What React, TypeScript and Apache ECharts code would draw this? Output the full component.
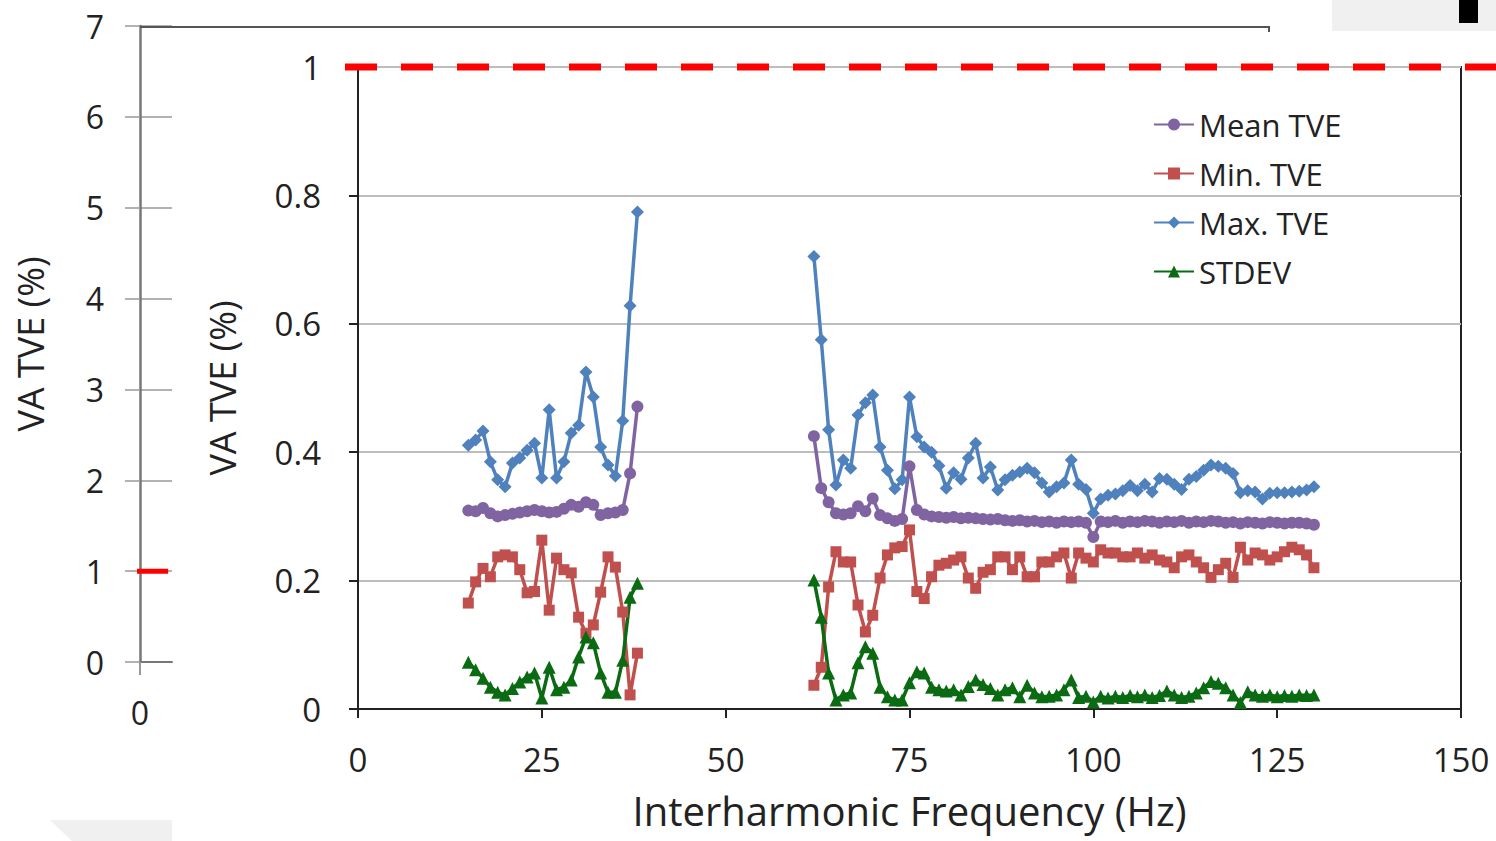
import React, { useEffect, useRef } from "react";
import * as echarts from "echarts";

// Interharmonic frequencies (Hz)
const freqA = [15, 16, 17, 18, 19, 20, 21, 22, 23, 24, 25, 26, 27, 28, 29, 30, 31, 32, 33, 34, 35, 36, 37, 38];
const freqB = [
  62, 63, 64, 65, 66, 67, 68, 69, 70, 71,
  72, 73, 74, 75, 76, 77, 78, 79, 80, 81,
  82, 83, 84, 85, 86, 87, 88, 89, 90, 91,
  92, 93, 94, 95, 96, 97, 98, 99, 100, 101,
  102, 103, 104, 105, 106, 107, 108, 109, 110, 111,
  112, 113, 114, 115, 116, 117, 118, 119, 120, 121,
  122, 123, 124, 125, 126, 127, 128, 129, 130,
];

const meanA = [0.309, 0.308, 0.313, 0.305, 0.300, 0.302, 0.304, 0.306, 0.308, 0.310, 0.308, 0.306, 0.307, 0.312, 0.318, 0.315, 0.322, 0.318, 0.302, 0.305, 0.306, 0.310, 0.367, 0.471];
const minA = [0.165, 0.198, 0.219, 0.206, 0.237, 0.240, 0.237, 0.217, 0.181, 0.183, 0.263, 0.154, 0.235, 0.217, 0.212, 0.143, 0.118, 0.131, 0.182, 0.237, 0.221, 0.151, 0.022, 0.087];
const maxA = [0.411, 0.419, 0.433, 0.385, 0.357, 0.346, 0.383, 0.391, 0.403, 0.414, 0.360, 0.466, 0.360, 0.385, 0.430, 0.442, 0.525, 0.486, 0.408, 0.380, 0.363, 0.449, 0.628, 0.774];
const stdA = [0.073, 0.061, 0.048, 0.034, 0.026, 0.022, 0.032, 0.042, 0.050, 0.056, 0.017, 0.065, 0.030, 0.034, 0.045, 0.081, 0.112, 0.103, 0.056, 0.026, 0.026, 0.076, 0.174, 0.196];

const meanB = [
  0.425, 0.344, 0.322, 0.305, 0.303, 0.305, 0.316, 0.308, 0.328, 0.302,
  0.297, 0.293, 0.296, 0.378, 0.310, 0.303, 0.300, 0.299, 0.298, 0.299,
  0.297, 0.298, 0.297, 0.296, 0.295, 0.296, 0.294, 0.293, 0.294, 0.292,
  0.293, 0.291, 0.292, 0.290, 0.292, 0.291, 0.292, 0.290, 0.268, 0.292,
  0.291, 0.293, 0.290, 0.292, 0.291, 0.293, 0.292, 0.290, 0.292, 0.291,
  0.293, 0.290, 0.292, 0.291, 0.293, 0.292, 0.290, 0.291, 0.289, 0.291,
  0.290, 0.289, 0.291, 0.290, 0.289, 0.290, 0.290, 0.289, 0.287,
];
const minB = [
  0.037, 0.065, 0.190, 0.245, 0.229, 0.229, 0.162, 0.120, 0.146, 0.204,
  0.240, 0.251, 0.253, 0.279, 0.183, 0.172, 0.206, 0.224, 0.227, 0.232,
  0.237, 0.204, 0.188, 0.213, 0.217, 0.237, 0.237, 0.217, 0.237, 0.206,
  0.206, 0.229, 0.229, 0.237, 0.243, 0.204, 0.243, 0.235, 0.229, 0.248,
  0.243, 0.243, 0.237, 0.237, 0.243, 0.235, 0.240, 0.232, 0.229, 0.220,
  0.237, 0.240, 0.229, 0.220, 0.205, 0.217, 0.227, 0.205, 0.252, 0.232,
  0.243, 0.240, 0.232, 0.237, 0.245, 0.252, 0.248, 0.240, 0.220,
];
const maxB = [
  0.705, 0.575, 0.435, 0.349, 0.388, 0.375, 0.458, 0.477, 0.489, 0.408,
  0.372, 0.343, 0.357, 0.486, 0.424, 0.408, 0.400, 0.379, 0.344, 0.368,
  0.358, 0.391, 0.414, 0.360, 0.377, 0.341, 0.357, 0.364, 0.369, 0.375,
  0.368, 0.352, 0.338, 0.346, 0.352, 0.388, 0.350, 0.342, 0.305, 0.327,
  0.333, 0.335, 0.340, 0.348, 0.340, 0.350, 0.338, 0.359, 0.358, 0.350,
  0.342, 0.358, 0.362, 0.372, 0.380, 0.378, 0.375, 0.367, 0.337, 0.340,
  0.338, 0.327, 0.336, 0.337, 0.337, 0.338, 0.339, 0.341, 0.346,
];
const stdB = [
  0.201, 0.143, 0.056, 0.014, 0.022, 0.025, 0.072, 0.097, 0.087, 0.034,
  0.019, 0.014, 0.014, 0.041, 0.058, 0.056, 0.034, 0.030, 0.028, 0.030,
  0.022, 0.035, 0.045, 0.038, 0.032, 0.022, 0.030, 0.033, 0.019, 0.037,
  0.025, 0.019, 0.020, 0.022, 0.030, 0.045, 0.018, 0.020, 0.011, 0.020,
  0.017, 0.020, 0.018, 0.021, 0.019, 0.022, 0.018, 0.021, 0.028, 0.022,
  0.018, 0.020, 0.025, 0.033, 0.043, 0.040, 0.033, 0.022, 0.010, 0.027,
  0.022, 0.020, 0.022, 0.019, 0.021, 0.020, 0.022, 0.021, 0.022,
];

const seriesNames = ["Mean TVE", "Min. TVE", "Max. TVE", "STDEV"];
const seriesColors = ["#8064A2", "#C0504D", "#4F81BD", "#0B6B12"];
const seriesSymbols = ["circle", "rect", "diamond", "triangle"];
const seriesSizes = [12, 11, 13, 13];
const seriesA = [meanA, minA, maxA, stdA];
const seriesB = [meanB, minB, maxB, stdB];

const yTicksLeft = [0, 1, 2, 3, 4, 5, 6, 7];
const limitValue = 1;

const FONT = "Open Sans";
const TXT = "#222";

function buildData(a: number[], b: number[]) {
  const out: any[] = freqA.map((f, i) => [f, a[i]]);
  out.push([50, "-"]);
  freqB.forEach((f, i) => out.push([f, b[i]]));
  return out;
}

export default function App() {
  const ref = useRef<HTMLDivElement>(null);
  useEffect(() => {
    if (!ref.current) return;
    const chart = echarts.init(ref.current, undefined, { renderer: "svg" });
    const option: any = {
      animation: false,
      backgroundColor: "#fff",
      textStyle: { fontFamily: FONT },
      legend: {
        data: seriesNames,
        orient: "vertical",
        left: 1148,
        top: 104,
        itemWidth: 40,
        itemHeight: 15,
        itemGap: 18,
        textStyle: { fontSize: 31, color: TXT, fontFamily: FONT },
      },
      grid: [
        { left: 358, top: 67, width: 1103, height: 642, show: true, borderColor: "#222", borderWidth: 2 },
        { left: 140, top: 26, width: 32, height: 636 },
      ],
      xAxis: [
        {
          gridIndex: 0,
          type: "value",
          min: 0,
          max: 150,
          interval: 25,
          axisLine: { lineStyle: { color: "#222", width: 2 } },
          axisTick: { length: 9, lineStyle: { color: "#222", width: 2 } },
          axisLabel: { fontSize: 33, color: TXT, margin: 34, fontFamily: FONT },
          splitLine: { show: false },
          name: "Interharmonic Frequency (Hz)",
          nameLocation: "middle",
          nameGap: 81,
          nameTextStyle: { fontSize: 40, color: TXT, fontFamily: FONT },
        },
        {
          gridIndex: 1,
          type: "value",
          min: 0,
          max: 1,
          interval: 1,
          axisLine: { lineStyle: { color: "#777", width: 2 } },
          axisTick: { customValues: [0], length: 13, lineStyle: { color: "#999", width: 2 } },
          axisLabel: { customValues: [0], fontSize: 32, color: TXT, margin: 34, fontFamily: FONT },
          splitLine: { show: false },
        },
      ],
      yAxis: [
        {
          gridIndex: 0,
          type: "value",
          min: 0,
          max: 1,
          interval: 0.2,
          axisLine: { show: true, lineStyle: { color: "#222", width: 2 } },
          axisTick: { show: true, length: 9, lineStyle: { color: "#222", width: 2 } },
          axisLabel: { fontSize: 33, color: TXT, margin: 37, fontFamily: FONT },
          splitLine: { show: true, lineStyle: { color: "#bdbdbd", width: 2 } },
          name: "VA TVE (%)",
          nameLocation: "middle",
          nameGap: 118,
          nameTextStyle: { fontSize: 36, color: TXT, fontFamily: FONT },
        },
        {
          gridIndex: 1,
          type: "value",
          min: yTicksLeft[0],
          max: yTicksLeft[yTicksLeft.length - 1],
          interval: 1,
          axisLine: { show: true, lineStyle: { color: "#777", width: 2.5 } },
          axisTick: { show: true, length: 15, lineStyle: { color: "#999", width: 1.5 } },
          axisLabel: { fontSize: 32, color: TXT, margin: 36, fontFamily: FONT },
          splitLine: { show: true, lineStyle: { color: "#999", width: 1.5 } },
          name: "VA TVE (%)",
          nameLocation: "middle",
          nameGap: 92,
          nameTextStyle: { fontSize: 36, color: TXT, fontFamily: FONT },
        },
      ],
      series: [
        ...seriesNames.map((n, k) => ({
          name: n,
          type: "line",
          xAxisIndex: 0,
          yAxisIndex: 0,
          data: buildData(seriesA[k], seriesB[k]),
          connectNulls: false,
          symbol: seriesSymbols[k],
          symbolSize: seriesSizes[k],
          showAllSymbol: true,
          itemStyle: { color: seriesColors[k] },
          lineStyle: { color: seriesColors[k], width: 3.5 },
        })),
        {
          name: "limitLeft",
          type: "line",
          xAxisIndex: 1,
          yAxisIndex: 1,
          data: [[-0.12, limitValue], [0.88, limitValue]],
          symbol: "none",
          clip: false,
          silent: true,
          lineStyle: { color: "#ff0000", width: 5 },
          z: 5,
        },
      ],
    };
    chart.setOption(option);
    const yLim = chart.convertToPixel({ yAxisIndex: 0 }, limitValue) as number;
    chart.setOption({
      graphic: [
        { type: "polyline", shape: { points: [[140, 27], [1269, 27], [1269, 32]] }, style: { stroke: "#555", lineWidth: 2, fill: null }, z: 1 },
        { type: "rect", shape: { x: 1332, y: 0, width: 164, height: 31 }, style: { fill: "#f0f0f0" }, z: 1 },
        { type: "rect", shape: { x: 1459, y: 0, width: 19, height: 23 }, style: { fill: "#000" }, z: 2 },
        { type: "polygon", shape: { points: [[50, 820], [172, 820], [172, 841], [72, 841]] }, style: { fill: "#f0f0f0" }, z: 1 },
        {
          type: "line",
          shape: { x1: 345, y1: yLim, x2: 1496, y2: yLim },
          style: { stroke: "#ff0000", lineWidth: 7, lineDash: [32, 24] },
          z: 100,
        },
      ],
    });
    return () => chart.dispose();
  }, []);
  return <div ref={ref} style={{ position: "fixed", left: 0, top: 0, width: 1496, height: 841 }} />;
}
